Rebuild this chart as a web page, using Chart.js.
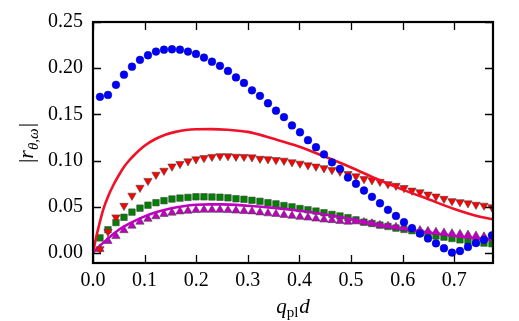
<!DOCTYPE html>
<html>
<head>
<meta charset="utf-8">
<script src="https://cdn.jsdelivr.net/npm/chart.js@4.4.1/dist/chart.umd.min.js"></script>
<style>
  html, body { margin: 0; padding: 0; background: #ffffff; }
  #wrap { width: 519px; height: 321px; }
</style>
</head>
<body>
<div id="wrap"><canvas id="c" width="519" height="321"></canvas></div>
<script>
// ---- data ----
const qd = [0.0135, 0.029, 0.0445, 0.06, 0.0755, 0.091, 0.1065, 0.122, 0.1375, 0.153,
  0.1685, 0.184, 0.1995, 0.215, 0.2305, 0.246, 0.2615, 0.277, 0.2925, 0.308,
  0.3235, 0.339, 0.3545, 0.37, 0.3855, 0.401, 0.4165, 0.432, 0.4475, 0.463,
  0.4785, 0.494, 0.5095, 0.525, 0.5405, 0.556, 0.5715, 0.587, 0.6025, 0.618,
  0.6335, 0.649, 0.6645, 0.68, 0.6955, 0.711, 0.7265, 0.742, 0.7575, 0.773];

const blueCircles = [0.169, 0.171, 0.182, 0.193, 0.2016, 0.209, 0.214, 0.218, 0.220, 0.2205,
  0.220, 0.218, 0.2154, 0.2115, 0.207, 0.2025, 0.197, 0.190, 0.184, 0.176,
  0.170, 0.162, 0.154, 0.147, 0.138, 0.1306, 0.122, 0.1144, 0.1067, 0.098,
  0.091, 0.0816, 0.0748, 0.0675, 0.0607, 0.0537, 0.0466, 0.040, 0.0332, 0.0268,
  0.0209, 0.0156, 0.0103, 0.005, 0.0003, 0.002, 0.0064, 0.0106, 0.0141, 0.019];

const redTriangles = [0.004, 0.023, 0.0385, 0.051, 0.062, 0.0706, 0.078, 0.0847, 0.089, 0.0936,
  0.0964, 0.0992, 0.1014, 0.1027, 0.104, 0.1048, 0.1048, 0.1042, 0.104, 0.1035,
  0.102, 0.1015, 0.1006, 0.0999, 0.0982, 0.0967, 0.095, 0.0935, 0.0918, 0.0897,
  0.088, 0.0855, 0.083, 0.080, 0.0787, 0.077, 0.0745, 0.0727, 0.0703, 0.0675,
  0.0657, 0.0632, 0.0611, 0.0586, 0.0561, 0.055, 0.0537, 0.0522, 0.0512, 0.0495];

const greenSquares = [0.0162, 0.025, 0.0328, 0.0385, 0.0441, 0.0484, 0.0516, 0.0543, 0.0565, 0.0583,
  0.0593, 0.060, 0.0607, 0.0607, 0.0605, 0.0602, 0.0596, 0.0586, 0.058, 0.0569,
  0.0558, 0.0543, 0.053, 0.0512, 0.0498, 0.048, 0.0466, 0.0452, 0.0434, 0.0416,
  0.0399, 0.0381, 0.0357, 0.0332, 0.0318, 0.030, 0.0286, 0.0268, 0.0254, 0.024,
  0.0215, 0.0198, 0.0183, 0.017, 0.0156, 0.0141, 0.0127, 0.0117, 0.0106, 0.0099];

const magentaTriangles = [0.004, 0.0127, 0.018, 0.0244, 0.0293, 0.0336, 0.0368, 0.0395, 0.042, 0.0434,
  0.0448, 0.0455, 0.0462, 0.0466, 0.0466, 0.0465, 0.0462, 0.0457, 0.0452, 0.0448,
  0.0437, 0.0427, 0.042, 0.041, 0.040, 0.0389, 0.0381, 0.037, 0.036, 0.0353,
  0.0344, 0.0336, 0.034, 0.033, 0.0318, 0.030, 0.029, 0.0278, 0.0267, 0.0257,
  0.0245, 0.0235, 0.0226, 0.0218, 0.021, 0.0203, 0.0195, 0.0185, 0.0176, 0.0167];

const redLineQ = [0, 0.005, 0.01, 0.02, 0.03, 0.04, 0.05, 0.06, 0.07, 0.08, 0.1, 0.12, 0.14, 0.16,
  0.18, 0.2, 0.23, 0.26, 0.3, 0.35, 0.4, 0.45, 0.5, 0.55, 0.6, 0.65, 0.7, 0.75, 0.775];
const redLine = [0, 0.014, 0.026, 0.047, 0.062, 0.074, 0.084, 0.093, 0.100, 0.106, 0.116, 0.123, 0.128, 0.131,
  0.133, 0.1338, 0.134, 0.1333, 0.131, 0.1235, 0.115, 0.104, 0.0925, 0.080, 0.0685, 0.058, 0.0475, 0.039, 0.0365];

const magLineQ = [0, 0.01, 0.025, 0.05, 0.075, 0.1, 0.125, 0.15, 0.175, 0.2, 0.225, 0.25,
  0.3, 0.35, 0.4, 0.45, 0.5, 0.55, 0.6, 0.65, 0.7, 0.775];
const magLine = [0, 0.006, 0.0135, 0.025, 0.033, 0.0395, 0.0445, 0.048, 0.0505, 0.052, 0.0525, 0.0525,
  0.051, 0.0487, 0.0455, 0.0415, 0.0365, 0.031, 0.0262, 0.022, 0.0183, 0.014];

const xTicks = [0.0, 0.1, 0.2, 0.3, 0.4, 0.5, 0.6, 0.7];
const yTicks = [0.00, 0.05, 0.10, 0.15, 0.20, 0.25];

// ---- build ----
const pts = (xs, ys) => xs.map((x, i) => ({x: x, y: ys[i]}));
const EDGE = 'rgba(70,70,70,0.85)';
const FONT = '"Liberation Serif", "Times New Roman", serif';

const frame = {
  id: 'frame',
  afterDatasetsDraw(chart) {
    const {ctx, chartArea: a, scales} = chart;
    ctx.save();
    ctx.strokeStyle = '#000';
    ctx.lineWidth = 1.3;
    const L = 8;
    ctx.beginPath();
    scales.x.ticks.forEach(t => {
      const px = Math.round(scales.x.getPixelForValue(t.value)) + 0.5;
      ctx.moveTo(px, a.bottom); ctx.lineTo(px, a.bottom - L);
      ctx.moveTo(px, a.top); ctx.lineTo(px, a.top + L);
    });
    scales.y.ticks.forEach(t => {
      const py = Math.round(scales.y.getPixelForValue(t.value)) + 0.5;
      ctx.moveTo(a.left, py); ctx.lineTo(a.left + L, py);
      ctx.moveTo(a.right, py); ctx.lineTo(a.right - L, py);
    });
    ctx.stroke();
    ctx.lineWidth = 2.2;
    ctx.strokeRect(a.left, a.top, a.right - a.left, a.bottom - a.top);
    ctx.restore();
  },
  afterDraw(chart) {
    const {ctx, chartArea: a} = chart;
    ctx.save();
    ctx.fillStyle = '#000';
    ctx.textBaseline = 'alphabetic';
    // x title: q_pl d
    const big = 'italic 21px ' + FONT, small = '15px ' + FONT;
    ctx.font = big; const wq = ctx.measureText('q').width;
    ctx.font = small; const wpl = ctx.measureText('pl').width;
    ctx.font = big; const wd = ctx.measureText('d').width;
    const total = wq + wpl + wd + 1;
    let x0 = (a.left + a.right) / 2 - total / 2;
    const yb = 313;
    ctx.font = big; ctx.fillText('q', x0, yb);
    ctx.font = small; ctx.fillText('pl', x0 + wq, yb + 4);
    ctx.font = big; ctx.fillText('d', x0 + wq + wpl + 1, yb);
    // y title: |r_{θ,ω}|
    ctx.translate(33, (a.top + a.bottom) / 2);
    ctx.rotate(-Math.PI / 2);
    const up = '22px ' + FONT, it = 'italic 22px ' + FONT, sub = 'italic 15px ' + FONT;
    ctx.font = up; const wbar = ctx.measureText('|').width;
    ctx.font = it; const wr = ctx.measureText('r').width;
    ctx.font = sub; const ws = ctx.measureText('θ,ω').width;
    const tot2 = wbar * 2 + wr + ws + 2;
    let s = -tot2 / 2;
    ctx.font = up; ctx.fillText('|', s, 0); s += wbar;
    ctx.font = it; ctx.fillText('r', s, 0); s += wr;
    ctx.font = sub; ctx.fillText('θ,ω', s, 5); s += ws + 1;
    ctx.font = up; ctx.fillText('|', s, 0);
    ctx.restore();
  }
};

new Chart(document.getElementById('c'), {
  type: 'scatter',
  data: {
    datasets: [
      { label: 'blue', data: pts(qd, blueCircles), pointStyle: 'circle', pointRadius: 3.9,
        backgroundColor: '#0000ff', borderColor: 'rgba(0,0,120,0.7)', borderWidth: 0.6, order: 0 },
      { label: 'red line', data: pts(redLineQ, redLine), showLine: true, pointRadius: 0,
        borderColor: 'rgb(240,16,40)', borderWidth: 2.6, cubicInterpolationMode: 'monotone', order: 1 },
      { label: 'red markers', data: pts(qd, redTriangles), pointStyle: 'triangle', rotation: 180, pointRadius: 4.8,
        backgroundColor: '#ff0000', borderColor: EDGE, borderWidth: 0.7, order: 2 },
      { label: 'magenta line', data: pts(magLineQ, magLine), showLine: true, pointRadius: 0,
        borderColor: 'rgb(191,0,191)', borderWidth: 2.6, cubicInterpolationMode: 'monotone', order: 3 },
      { label: 'green', data: pts(qd, greenSquares), pointStyle: 'rect', pointRadius: 4.6,
        backgroundColor: '#008000', borderColor: EDGE, borderWidth: 0.7, order: 5 },
      { label: 'magenta markers', data: pts(qd, magentaTriangles), pointStyle: 'triangle', pointRadius: 4.8,
        backgroundColor: 'rgb(191,0,191)', borderColor: EDGE, borderWidth: 0.7, order: 4 }
    ]
  },
  options: {
    responsive: false,
    devicePixelRatio: 1,
    animation: false,
    events: [],
    layout: { padding: { left: 0, right: 26, top: 16, bottom: 0 } },
    plugins: { legend: { display: false }, tooltip: { enabled: false } },
    scales: {
      x: {
        type: 'linear', min: 0, max: 0.775,
        grid: { display: false, drawTicks: false },
        border: { display: false },
        afterBuildTicks: s => { s.ticks = xTicks.map(v => ({value: v})); },
        afterFit: s => { s.height = 58; },
        ticks: { color: '#000', padding: 6, font: { family: FONT, size: 20 },
          callback: v => Number(v).toFixed(1) }
      },
      y: {
        type: 'linear', min: -0.011, max: 0.25,
        grid: { display: false, drawTicks: false },
        border: { display: false },
        afterBuildTicks: s => { s.ticks = yTicks.map(v => ({value: v})); },
        afterFit: s => { s.width = 93; },
        ticks: { color: '#000', padding: 10, font: { family: FONT, size: 20 },
          callback: v => Number(v).toFixed(2) }
      }
    }
  },
  plugins: [frame]
});
</script>
</body>
</html>
